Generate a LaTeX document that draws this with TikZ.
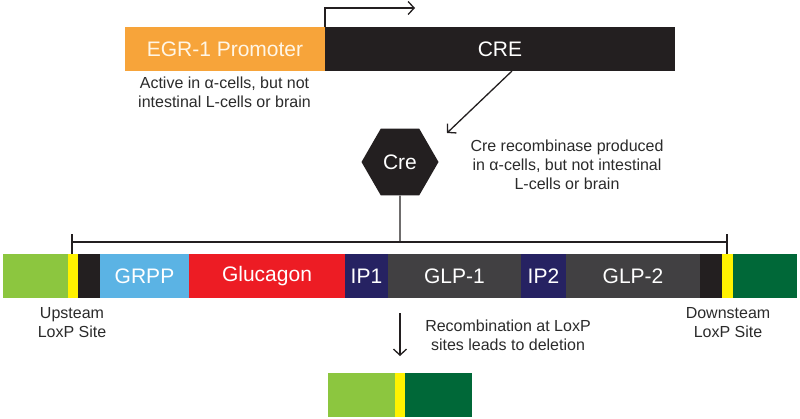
\documentclass[tikz,border=0pt]{standalone}
\usepackage{fontspec}
\setmainfont{Liberation Sans}
\usetikzlibrary{arrows.meta,shapes.geometric,calc}
\definecolor{cOrange}{HTML}{F7A43A}
\definecolor{cCream}{HTML}{FFF6E6}
\definecolor{cBlack}{HTML}{231F20}
\definecolor{cLGreen}{HTML}{8CC63F}
\definecolor{cDGreen}{HTML}{006838}
\definecolor{cYellow}{HTML}{FFF200}
\definecolor{cBlue}{HTML}{5BB3E4}
\definecolor{cRed}{HTML}{ED1C24}
\definecolor{cNavy}{HTML}{262262}
\definecolor{cGray}{HTML}{414042}
\definecolor{cText}{HTML}{2B2B2B}
\begin{document}
\begin{tikzpicture}[x=1pt,y=-1pt,
  lbl/.style={font=\fontsize{21}{25}\selectfont, text=white},
  seg/.style={rectangle, inner sep=0pt, outer sep=0pt, minimum height=44pt, anchor=west, lbl},
  note/.style={font=\fontsize{16}{19}\selectfont, text=cText, align=center, inner sep=0pt},
  conn/.style={line width=1.3pt, draw=cBlack},
  arr/.style={conn, -{Straight Barb[length=6pt,width=13pt]}}
]
\useasboundingbox[fill=white] (0,0) rectangle (800,418);

% top construct
\node[seg, fill=cOrange, minimum width=200pt, text=cCream] (prom) at (125,49) {EGR-1 Promoter};
\node[seg, fill=cBlack, minimum width=350pt] (crebox) at (325,49) {CRE};
\coordinate (tss) at (415,8);
\draw[arr] (crebox.north west) |- (tss);
\node[note] (active) at (224.5,92.5) {Active in α-cells, but not\\intestinal L-cells or brain};

% diagonal arrow
\coordinate (d0) at (512,71);
\coordinate (d1) at (447,133);
\draw[arr] (d0) -- (d1);

% Cre hexagon
\node[regular polygon, regular polygon sides=6, minimum size=77pt, inner sep=0pt, fill=cBlack, lbl] (cre) at (400,162) {Cre};
\node[note] (crenote) at (567,165) {Cre recombinase produced\\in α-cells, but not intestinal\\L-cells or brain};

% main bar
\node[seg, fill=cLGreen, minimum width=65pt] (g1) at (3,276) {};
\node[seg, fill=cYellow, minimum width=10pt] (yl) at (68,276) {};
\node[seg, fill=cBlack, minimum width=22pt] (k1) at (78,276) {};
\node[seg, fill=cBlue, minimum width=89pt] (grpp) at (100,276) {GRPP};
\node[seg, fill=cRed, minimum width=156pt] (gluc) at (189,276) {Glucagon};
\node[seg, fill=cNavy, minimum width=43pt] (ip1) at (345,276) {IP1};
\node[seg, fill=cGray, minimum width=133pt] (glp1) at (388,276) {GLP-1};
\node[seg, fill=cNavy, minimum width=45pt] (ip2) at (521,276) {IP2};
\node[seg, fill=cGray, minimum width=134pt] (glp2) at (566,276) {GLP-2};
\node[seg, fill=cBlack, minimum width=22pt] (k2) at (700,276) {};
\node[seg, fill=cYellow, minimum width=11pt] (yr) at (722,276) {};
\node[seg, fill=cDGreen, minimum width=64pt] (g2) at (733,276) {};

% bracket
\coordinate (bl) at (72,234);
\coordinate (br) at (727,234);
\coordinate (bmid) at (400,242);
\draw[conn] (cre.south) -- (bmid);
\draw[conn] (bl|-bmid) -- (br|-bmid);
\draw[conn] (bl) -- (bl|-yl.north);
\draw[conn] (br) -- (br|-yr.north);

\node[note] (upl) at (72,322.5) {Upsteam\\LoxP Site};
\node[note] (dnl) at (728,322.5) {Downsteam\\LoxP Site};

% recombination
\coordinate (a0) at (400,313);
\coordinate (a1) at (400,356);
\draw[arr] (a0) -- (a1);
\node[note] (recnote) at (508,335.5) {Recombination at LoxP\\sites leads to deletion};

% result bar
\node[seg, fill=cLGreen, minimum width=67pt] (rg1) at (328,395) {};
\node[seg, fill=cYellow, minimum width=10pt] (ry) at (395,395) {};
\node[seg, fill=cDGreen, minimum width=67pt] (rg2) at (405,395) {};
\end{tikzpicture}
\end{document}
